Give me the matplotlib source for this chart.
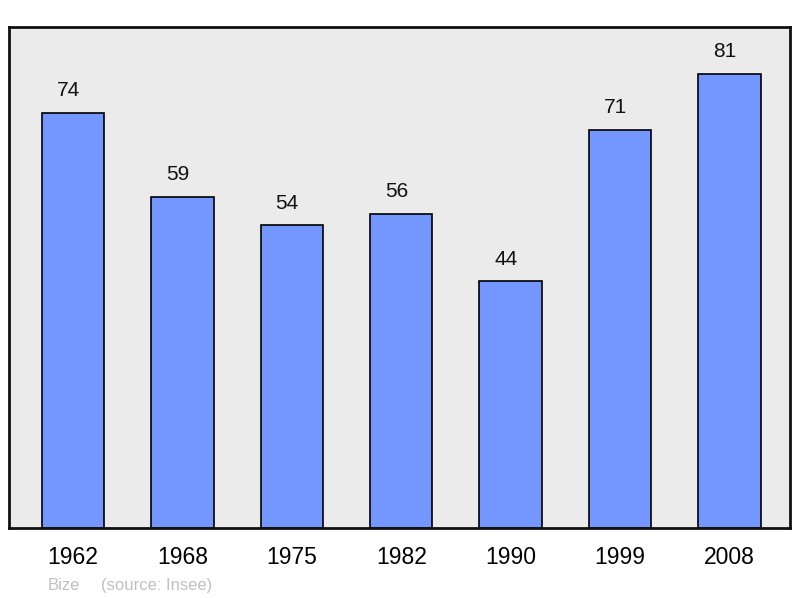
import matplotlib
matplotlib.use('Agg')
import matplotlib.pyplot as plt

# population de Bize (Insee)
years = ['1962', '1968', '1975', '1982', '1990', '1999', '2008']
population = [74, 59, 54, 56, 44, 71, 81]

plt.rcParams['font.family'] = ['Liberation Sans', 'DejaVu Sans']

fig = plt.figure(figsize=(8, 5.98), dpi=100)
ax = fig.add_axes([9/800, 70/598, 781/800, 501/598])
ax.set_facecolor('#ebebeb')

pos = list(range(len(years)))
ax.bar(pos, population, width=0.57, color='#7396ff', edgecolor='black', linewidth=1.2, zorder=2)

for x, v in zip(pos, population):
    ax.annotate(str(v), (x, v), xytext=(-3.5, 9), textcoords='offset points',
                ha='center', va='bottom', fontsize=15, color='#111111')

ax.set_xlim(-0.585, 6.553)
ax.set_ylim(0, 89.3)
ax.set_yticks([])
ax.set_xticks(pos)
ax.set_xticklabels(years, fontsize=16.5)
ax.tick_params(axis='x', length=0, pad=13)
for s in ax.spines.values():
    s.set_linewidth(2)
    s.set_color('#111111')

fig.text(48/800, 1 - 590/598, 'Bize', fontsize=12, color='#c0c0c0', va='baseline')
fig.text(101/800, 1 - 590/598, '(source: Insee)', fontsize=12, color='#c0c0c0', va='baseline')

fig.savefig('out.png', dpi=100)
